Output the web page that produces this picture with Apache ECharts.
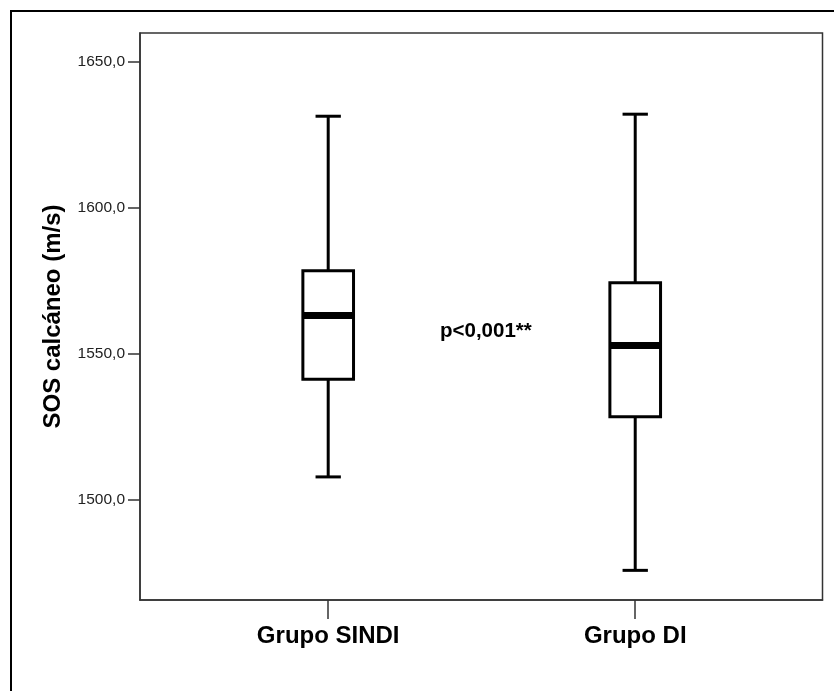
<!DOCTYPE html>
<html>
<head>
<meta charset="utf-8">
<script src="https://cdn.jsdelivr.net/npm/echarts@6/dist/echarts.min.js"></script>
<style>
	html, body { margin: 0; padding: 0; background: #fff; }
	#main { width: 834px; height: 691px; }
</style>
</head>
<body>
<div id="main"></div>
<script>
	// box plot values
	var categories = ['Grupo SINDI', 'Grupo DI'];
	var minValues = [1507.8, 1475.8];
	var q1Values = [1541.2, 1528.4];
	var medianValues = [1563.1, 1552.8];
	var q3Values = [1578.4, 1574.3];
	var maxValues = [1631.3, 1632.0];
	var yTicks = [1500, 1550, 1600, 1650];
	var pLabel = 'p<0,001**';

	var fontName = '"Liberation Sans", Arial, sans-serif';

	var boxData = categories.map(function (c, i) {
		return [i + 1, minValues[i], q1Values[i], medianValues[i], q3Values[i], maxValues[i]];
	});

	var myChart = echarts.init(document.getElementById('main'));
	myChart.setOption({
		animation: false,
		backgroundColor: '#fff',
		grid: {
			left: 140,
			right: 11.5,
			top: 33,
			bottom: 91,
			show: true,
			borderColor: '#333',
			borderWidth: 1.5,
			backgroundColor: 'transparent'
		},
		graphic: [
			{
				// outer frame, only top/left visible
				type: 'rect',
				shape: { x: 11, y: 11, width: 900, height: 900 },
				style: { fill: 'none', stroke: '#000', lineWidth: 2 },
				silent: true
			},
			{
				type: 'text',
				style: {
					x: 440,
					y: 331,
					text: pLabel,
					font: 'bold 20.5px ' + fontName,
					fill: '#000',
					verticalAlign: 'middle'
				}
			}
		],
		xAxis: {
			type: 'value',
			min: 0.387,
			max: 2.61,
			splitLine: { show: false },
			axisLine: { show: true, lineStyle: { color: '#333', width: 1.5 } },
			axisTick: {
				show: true,
				customValues: [1, 2],
				length: 19,
				lineStyle: { color: '#333', width: 1.5 }
			},
			axisLabel: {
				customValues: [1, 2],
				margin: 24,
				color: '#000',
				fontSize: 24,
				fontWeight: 'bold',
				fontFamily: fontName,
				formatter: function (v) {
					return categories[Math.round(v) - 1] || '';
				}
			}
		},
		yAxis: {
			type: 'value',
			min: 1465.65,
			max: 1659.8,
			name: 'SOS calcáneo (m/s)',
			nameLocation: 'middle',
			nameGap: 75,
			nameTextStyle: {
				color: '#000',
				fontSize: 24,
				fontWeight: 'bold',
				fontFamily: fontName
			},
			splitLine: { show: false },
			axisLine: { show: true, lineStyle: { color: '#333', width: 1.5 } },
			axisTick: {
				show: true,
				customValues: yTicks,
				length: 12,
				lineStyle: { color: '#333', width: 1.5 }
			},
			axisLabel: {
				customValues: yTicks,
				margin: 15,
				color: '#222',
				fontSize: 15.5,
				fontFamily: fontName,
				formatter: function (v) {
					return v.toFixed(1).replace('.', ',');
				}
			}
		},
		series: [
			{
				type: 'custom',
				data: boxData,
				encode: { x: 0, y: [1, 2, 3, 4, 5] },
				renderItem: function (params, api) {
					var x = api.value(0);
					var bw = api.size([1, 0])[0] * 0.165;
					var cw = bw / 2;
					var pMin = api.coord([x, api.value(1)]);
					var pQ1 = api.coord([x, api.value(2)]);
					var pMed = api.coord([x, api.value(3)]);
					var pQ3 = api.coord([x, api.value(4)]);
					var pMax = api.coord([x, api.value(5)]);
					var cx = pMin[0];
					var ln = { stroke: '#000', lineWidth: 3 };
					return {
						type: 'group',
						children: [
							{ type: 'line', shape: { x1: cx, y1: pMax[1], x2: cx, y2: pQ3[1] }, style: ln },
							{ type: 'line', shape: { x1: cx, y1: pQ1[1], x2: cx, y2: pMin[1] }, style: ln },
							{ type: 'line', shape: { x1: cx - cw / 2, y1: pMax[1], x2: cx + cw / 2, y2: pMax[1] }, style: ln },
							{ type: 'line', shape: { x1: cx - cw / 2, y1: pMin[1], x2: cx + cw / 2, y2: pMin[1] }, style: ln },
							{
								type: 'rect',
								shape: { x: cx - bw / 2, y: pQ3[1], width: bw, height: pQ1[1] - pQ3[1] },
								style: { fill: '#fff', stroke: '#000', lineWidth: 3 }
							},
							{
								type: 'line',
								shape: { x1: cx - bw / 2, y1: pMed[1], x2: cx + bw / 2, y2: pMed[1] },
								style: { stroke: '#000', lineWidth: 7 }
							}
						]
					};
				}
			}
		]
	});
</script>
</body>
</html>
